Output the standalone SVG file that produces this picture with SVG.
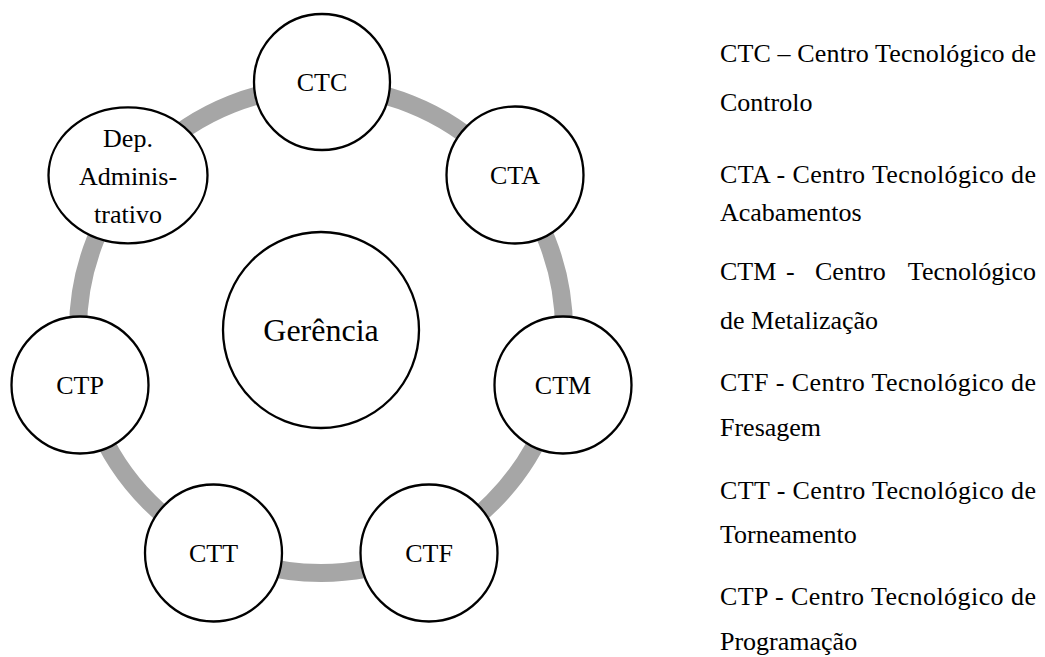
<svg xmlns="http://www.w3.org/2000/svg" width="1045" height="657" viewBox="0 0 1045 657">
<style>
text{font-family:'Liberation Serif',Tinos,'Times New Roman',Times,'DejaVu Serif',serif;fill:#000}
.node{fill:#fff;stroke:#000;stroke-width:2.3}
.lbl{font-size:26px;text-anchor:middle}
.big{font-size:32px}
.leg{font-size:26px}
</style>
<rect width="1045" height="657" fill="#fff"/>
<g id="connectors">
<circle cx="321" cy="330" r="243" fill="none" stroke="#A6A6A6" stroke-width="18"/>
</g>
<g id="gerencia">
<circle class="node" cx="321" cy="330" r="98"/>
<text class="lbl big" x="321" y="341" font-family="Liberation Serif, serif">Gerência</text>
</g>
<g id="ctc">
<circle class="node" cx="322" cy="82" r="68"/>
<text class="lbl" x="322" y="91" font-family="Liberation Serif, serif">CTC</text>
</g>
<g id="cta">
<circle class="node" cx="515" cy="175" r="68.5"/>
<text class="lbl" x="515" y="184" font-family="Liberation Serif, serif">CTA</text>
</g>
<g id="ctm">
<circle class="node" cx="563" cy="385" r="68.5"/>
<text class="lbl" x="563" y="394" font-family="Liberation Serif, serif">CTM</text>
</g>
<g id="ctf">
<circle class="node" cx="429" cy="553" r="68.5"/>
<text class="lbl" x="429" y="562" font-family="Liberation Serif, serif">CTF</text>
</g>
<g id="ctt">
<circle class="node" cx="213.5" cy="553" r="68.5"/>
<text class="lbl" x="213.5" y="562" font-family="Liberation Serif, serif">CTT</text>
</g>
<g id="ctp">
<circle class="node" cx="80" cy="385" r="68.5"/>
<text class="lbl" x="80" y="394" font-family="Liberation Serif, serif">CTP</text>
</g>
<g id="dep">
<ellipse class="node" cx="128" cy="175.3" rx="79.5" ry="68"/>
<text class="lbl" x="128" y="147" font-family="Liberation Serif, serif">Dep.</text>
<text class="lbl" x="128" y="185" font-family="Liberation Serif, serif">Adminis-</text>
<text class="lbl" x="128" y="223" font-family="Liberation Serif, serif">trativo</text>
</g>
<g id="legend">
<text class="leg" x="720" y="62" textLength="316" lengthAdjust="spacing">CTC – Centro Tecnológico de</text>
<text class="leg" x="720" y="111">Controlo</text>
<text class="leg" x="720" y="183" textLength="316" lengthAdjust="spacing">CTA - Centro Tecnológico de</text>
<text class="leg" x="720" y="221">Acabamentos</text>
<text class="leg" x="720" y="280">CTM</text>
<text class="leg" x="786" y="280">-</text>
<text class="leg" x="815" y="280">Centro</text>
<text class="leg" x="1036" y="280" text-anchor="end">Tecnológico</text>
<text class="leg" x="720" y="329">de Metalização</text>
<text class="leg" x="720" y="391" textLength="316" lengthAdjust="spacing">CTF - Centro Tecnológico de</text>
<text class="leg" x="720" y="436">Fresagem</text>
<text class="leg" x="720" y="499" textLength="316" lengthAdjust="spacing">CTT - Centro Tecnológico de</text>
<text class="leg" x="720" y="543">Torneamento</text>
<text class="leg" x="720" y="605" textLength="316" lengthAdjust="spacing">CTP - Centro Tecnológico de</text>
<text class="leg" x="720" y="650">Programação</text>
</g>
</svg>
